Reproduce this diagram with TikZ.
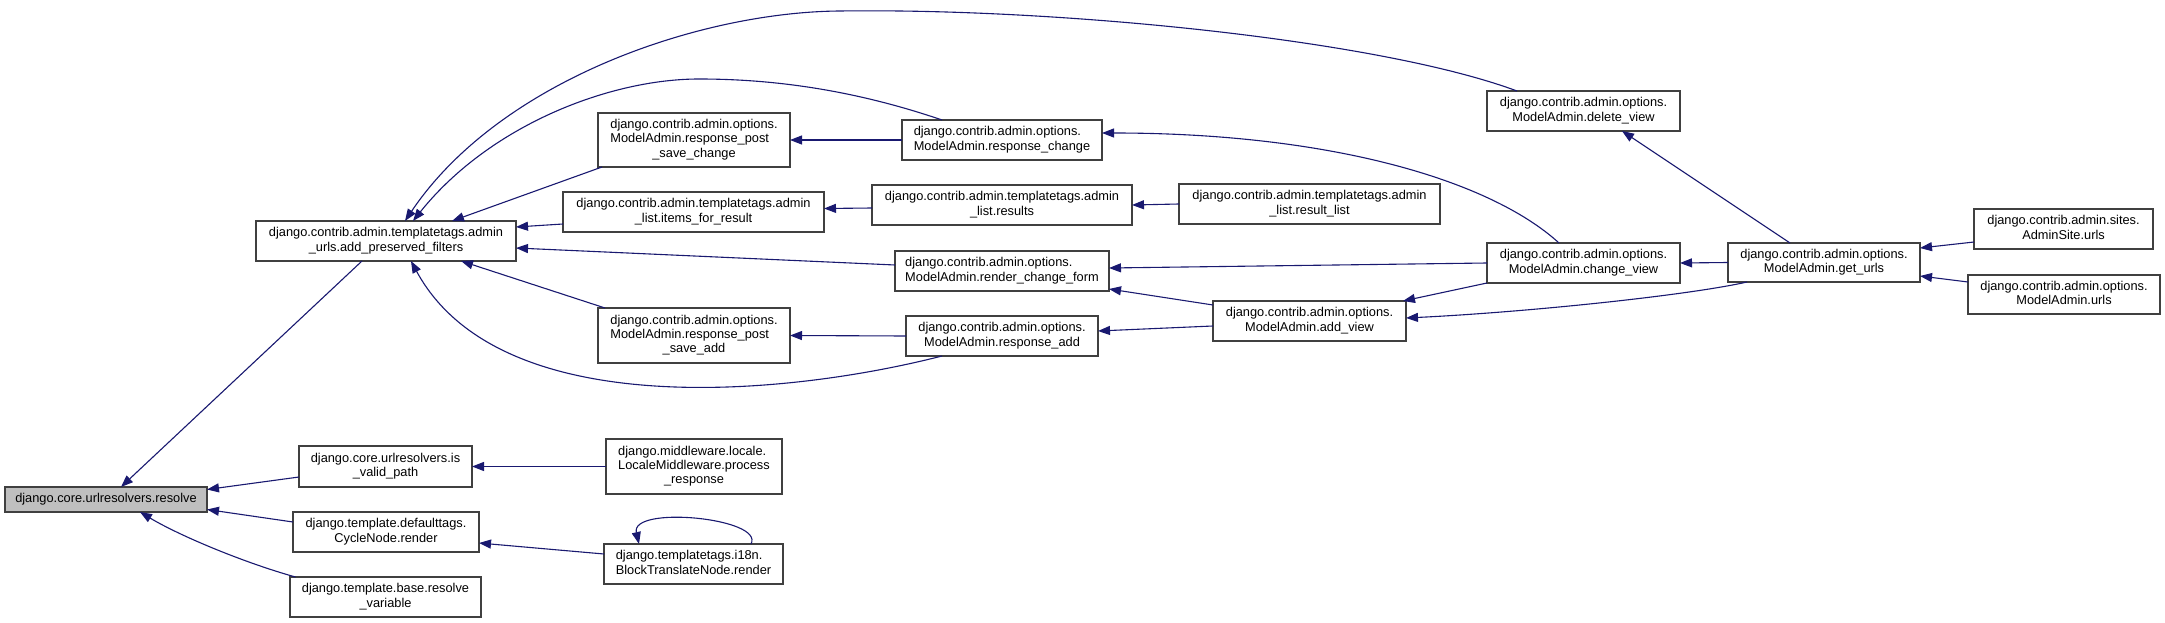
\documentclass[tikz,border=0pt]{standalone}
\usepackage{fontspec}
\setmainfont{Liberation Sans}
\usetikzlibrary{arrows.meta}
\definecolor{edgec}{HTML}{191970}
\definecolor{boxc}{HTML}{404040}
\definecolor{hlc}{HTML}{BFBFBF}
\newcommand\dxfont{\fontsize{12.8}{14.3}\selectfont\setbox\strutbox\hbox{\vrule height 10pt depth 4.3pt width 0pt}}
\newcommand\dxl[1]{\begin{tabular}{@{}l@{}}#1\end{tabular}}
\newcommand\dxc[1]{\multicolumn{1}{@{}c@{}}{#1}}
\begin{document}
\begin{tikzpicture}[x=1pt,y=-1pt,
  fbox/.style={draw=boxc, line width=1.2pt, fill=white, inner sep=0pt, outer sep=0pt, font=\dxfont, anchor=center},
  sz/.style 2 args={minimum width=#1pt, minimum height=#2pt},
  call/.style={draw=edgec, line width=1.1pt, -{Triangle[length=12pt,width=9pt]}},
]
\fill[white] (0,0) rectangle (2165,623);
\useasboundingbox (0,0) rectangle (2165,623);

% nodes
\node[fbox, fill=hlc, sz={202}{25}] (R) at (106,499.5) {django.core.urlresolvers.resolve};
\node[fbox, sz={260}{40}] (apf) at (386,241) {\dxl{django.contrib.admin.templatetags.admin\\\dxc{\_urls.add\_preserved\_filters}}};
\node[fbox, sz={173}{41}] (ivp) at (385.5,466.5) {\dxl{django.core.urlresolvers.is\\\dxc{\_valid\_path}}};
\node[fbox, sz={186}{40}] (cnr) at (386,532) {\dxl{django.template.defaulttags.\\\dxc{CycleNode.render}}};
\node[fbox, sz={191}{40}] (rv) at (385.5,597) {\dxl{django.template.base.resolve\\\dxc{\_variable}}};
\node[fbox, sz={192}{54}] (rpsc) at (694,140) {\dxl{django.contrib.admin.options.\\ModelAdmin.response\_post\\\dxc{\_save\_change}}};
\node[fbox, sz={261}{40}] (ifr) at (693.5,212) {\dxl{django.contrib.admin.templatetags.admin\\\dxc{\_list.items\_for\_result}}};
\node[fbox, sz={200}{40}] (rc) at (1002,140) {\dxl{django.contrib.admin.options.\\\dxc{ModelAdmin.response\_change}}};
\node[fbox, sz={260}{40}] (res) at (1002,205) {\dxl{django.contrib.admin.templatetags.admin\\\dxc{\_list.results}}};
\node[fbox, sz={261}{40}] (rl) at (1309.5,204) {\dxl{django.contrib.admin.templatetags.admin\\\dxc{\_list.result\_list}}};
\node[fbox, sz={214}{40}] (rcf) at (1002,271) {\dxl{django.contrib.admin.options.\\\dxc{ModelAdmin.render\_change\_form}}};
\node[fbox, sz={192}{55}] (rpsa) at (694,335.5) {\dxl{django.contrib.admin.options.\\ModelAdmin.response\_post\\\dxc{\_save\_add}}};
\node[fbox, sz={192}{40}] (ra) at (1002,336) {\dxl{django.contrib.admin.options.\\\dxc{ModelAdmin.response\_add}}};
\node[fbox, sz={193}{40}] (dv) at (1583.5,111) {\dxl{django.contrib.admin.options.\\\dxc{ModelAdmin.delete\_view}}};
\node[fbox, sz={193}{40}] (cv) at (1583.5,263) {\dxl{django.contrib.admin.options.\\\dxc{ModelAdmin.change\_view}}};
\node[fbox, sz={193}{40}] (av) at (1309.5,321) {\dxl{django.contrib.admin.options.\\\dxc{ModelAdmin.add\_view}}};
\node[fbox, sz={192}{39}] (gu) at (1824,262.5) {\dxl{django.contrib.admin.options.\\\dxc{ModelAdmin.get\_urls}}};
\node[fbox, sz={179}{40}] (asu) at (2063.5,229) {\dxl{django.contrib.admin.sites.\\\dxc{AdminSite.urls}}};
\node[fbox, sz={192}{39}] (mau) at (2064,294.5) {\dxl{django.contrib.admin.options.\\\dxc{ModelAdmin.urls}}};
\node[fbox, sz={176}{55}] (lm) at (694,466.5) {\dxl{django.middleware.locale.\\LocaleMiddleware.process\\\dxc{\_response}}};
\node[fbox, sz={179}{40}] (btn) at (693.5,564) {\dxl{django.templatetags.i18n.\\\dxc{BlockTranslateNode.render}}};

% edges into resolve
\draw[call] ([xshift=-24pt]apf.south) -- ([xshift=15pt]R.north);
\draw[call] ([yshift=-10.5pt]ivp.west) -- ([yshift=10pt]R.east);
\draw[call] ([yshift=10pt]cnr.west) -- ([yshift=-10pt]R.east);
\draw[call] ([xshift=-90pt]rv.north) .. controls (245,563) and (180,536) .. ([xshift=34pt]R.south);

% edges into add_preserved_filters
\draw[call] ([xshift=-92pt]rpsc.south) -- ([xshift=66pt]apf.north);
\draw[call] ([yshift=-12pt]ifr.west) -- ([yshift=14pt]apf.east);
\draw[call] ([yshift=6pt]rcf.west) -- ([yshift=-7pt]apf.east);
\draw[call] ([xshift=-89pt]rpsa.north) -- ([xshift=75pt]apf.south);
\draw[call] ([xshift=-60pt]ra.south) .. controls (790,395) and (500,425) .. ([xshift=25pt]apf.south);
\draw[call] ([xshift=-60pt]rc.north) .. controls (860,92) and (780,79) .. (699,79)
  .. controls (610,79) and (490,125) .. ([xshift=27pt]apf.north);
\draw[call] ([xshift=-66.5pt]dv.north) .. controls (1380,40) and (1060,8) .. (840,11)
  .. controls (700,12) and (500,80) .. ([xshift=19pt]apf.north);

% middle edges
\draw[call] ([xshift=-24.5pt]cv.north) .. controls (1490,180) and (1330,133) .. ([yshift=7pt]rc.east);
\draw[call] (rc.west) -- (rpsc.east);
\draw[call] ([yshift=-3pt]res.west) -- ([yshift=3.5pt]ifr.east);
\draw[call] (rl.west) -- (res.east);
\draw[call] (cv.west) -- ([yshift=3pt]rcf.east);
\draw[call] ([yshift=-4pt]av.north west) -- ([yshift=2pt]rcf.south east);
\draw[call] ([yshift=-5pt]av.west) -- ([yshift=5pt]ra.east);
\draw[call] (ra.west) -- (rpsa.east);
\draw[call] (cv.south west) -- ([xshift=-3pt]av.north east);
\draw[call] ([xshift=-77pt]gu.south) .. controls (1690,295) and (1530,312) .. ([yshift=3pt]av.east);
\draw[call] ([xshift=-34pt]gu.north) -- ([xshift=38.5pt]dv.south);
\draw[call] (gu.west) -- (cv.east);
\draw[call] ([yshift=-13pt]asu.west) -- ([yshift=14.5pt]gu.east);
\draw[call] ([yshift=12.5pt]mau.west) -- ([yshift=-13.5pt]gu.east);

% lower edges
\draw[call] (lm.west) -- (ivp.east);
\draw[call] ([yshift=10pt]btn.west) -- ([yshift=-11pt]cnr.east);
\draw[call] ([xshift=57.5pt]btn.north) .. controls (765,518) and (630,505) .. ([xshift=-54.5pt]btn.north);
\end{tikzpicture}
\end{document}
